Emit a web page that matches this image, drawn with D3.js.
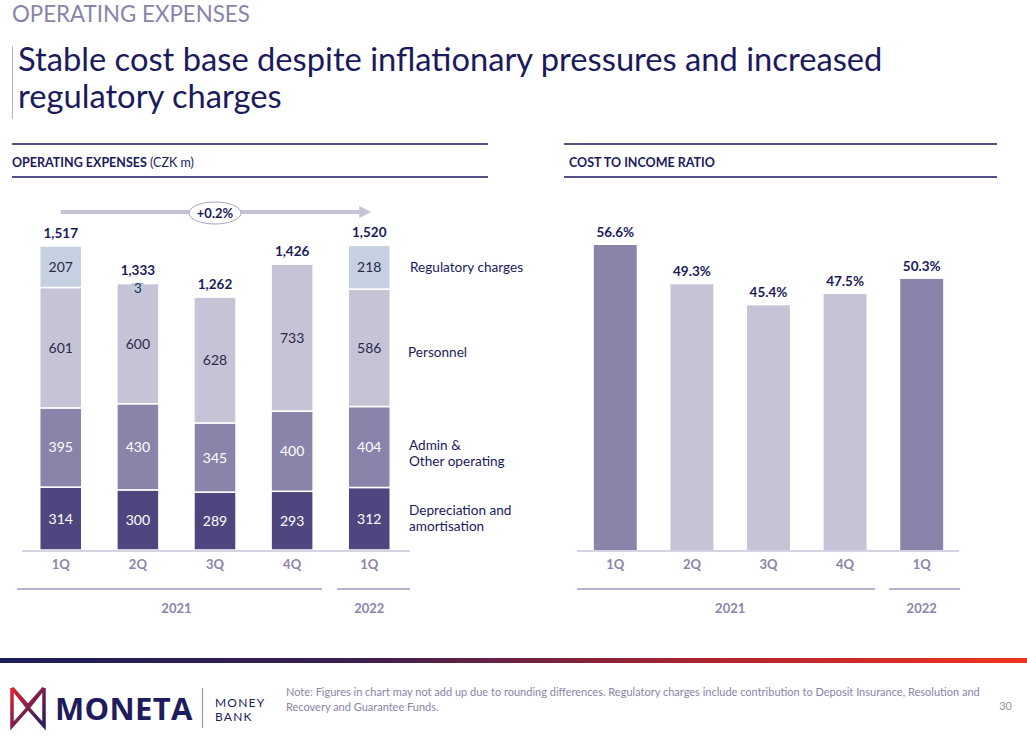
<!DOCTYPE html>
<html><head><meta charset="utf-8">
<script src="https://cdn.jsdelivr.net/npm/d3@7"></script>
<style>
body{margin:0;background:#fff;}
svg{display:block;font-family:Lato, "Open Sans", sans-serif;}
</style></head>
<body><svg id="c" width="1027" height="737"></svg>
<script>
// ---- data ----
const quarters = ["1Q","2Q","3Q","4Q","1Q"];
const years = [{label:"2021", from:0, to:3},{label:"2022", from:4, to:4}];
const depreciation = [314,300,289,293,312];
const admin = [395,430,345,400,404];
const personnel = [601,600,628,733,586];
const regulatory = [207,3,0,0,218];
const totals = [1517,1333,1262,1426,1520];
const seriesNames = ["Depreciation and amortisation","Admin & Other operating","Personnel","Regulatory charges"];
const costIncome = [56.6,49.3,45.4,47.5,50.3];
const ciHighlight = [true,false,false,false,true];
const changeLabel = "+0.2%";

const NAVY="#1b1a5c", C_DEP="#4f4680", C_ADM="#8a83aa", C_PER="#c6c3d7", C_REG="#c5d0e2", GREYTXT="#8a84aa";
const svg = d3.select("#c");

// ---- header ----
svg.append("text").attr("x",12).attr("y",22).attr("fill","#8a84aa").attr("font-size",22.3).text("OPERATING EXPENSES");
svg.append("line").attr("x1",12.5).attr("x2",12.5).attr("y1",46).attr("y2",119).attr("stroke","#b5b5b5").attr("stroke-width",1);
svg.append("text").attr("x",18).attr("y",71).attr("fill",NAVY).attr("font-size",32.7).text("Stable cost base despite inflationary pressures and increased");
svg.append("text").attr("x",18).attr("y",108).attr("fill",NAVY).attr("font-size",32.7).text("regulatory charges");

function sectionHeader(x1,x2,tx,bold,rest){
  [144,177].forEach(y=>svg.append("line").attr("x1",x1).attr("x2",x2).attr("y1",y).attr("y2",y).attr("stroke",NAVY).attr("stroke-width",1.3));
  const t=svg.append("text").attr("x",tx).attr("y",167).attr("font-size",12.5).attr("fill",NAVY);
  t.append("tspan").attr("font-weight","bold").text(bold);
  if(rest) t.append("tspan").text(rest);
}
sectionHeader(12,488,12,"OPERATING EXPENSES"," (CZK m)");
sectionHeader(564,997,569,"COST TO INCOME RATIO","");

// ---- left chart: stacked bars ----
const baseY=550;
const xL = d3.scaleBand().domain(d3.range(5)).range([22,408]).paddingInner(0.455).paddingOuter(0.23);
const yL = d3.scaleLinear().domain([0,1517]).range([baseY, 246]);
const rows = quarters.map((q,i)=>({i,vals:[depreciation[i],admin[i],personnel[i],regulatory[i]]}));
const stack = d3.stack().keys([0,1,2,3]).value((d,k)=>d.vals[k]);
const layers = stack(rows);
const colors=[C_DEP,C_ADM,C_PER,C_REG];
const gL = svg.append("g");
layers.forEach((layer,k)=>{
  gL.selectAll(null).data(layer).enter().append("rect")
    .attr("x",d=>xL(d.data.i)).attr("width",xL.bandwidth())
    .attr("y",d=>yL(d[1])).attr("height",d=>Math.max(0,yL(d[0])-yL(d[1])))
    .attr("fill",colors[k]).attr("stroke","#fff").attr("stroke-width",d=>d[1]-d[0]>0?1.5:0);
  gL.selectAll(null).data(layer.filter(d=>d[1]-d[0]>20)).enter().append("text")
    .attr("x",d=>xL(d.data.i)+xL.bandwidth()/2).attr("y",d=>(yL(d[0])+yL(d[1]))/2+5)
    .attr("text-anchor","middle").attr("font-size",14)
    .attr("fill",k<2?"#fff":"#2a2a4a").text(d=>d[1]-d[0]);
});
// tiny regulatory value label
layers[3].filter(d=>d[1]-d[0]>0 && d[1]-d[0]<=20).forEach(d=>{
  const cx=xL(d.data.i)+xL.bandwidth()/2, y=yL(d[1]);
  gL.append("rect").attr("x",cx-6).attr("y",y).attr("width",12).attr("height",11).attr("fill","#bccadf");
  gL.append("text").attr("x",cx).attr("y",y+10).attr("text-anchor","middle").attr("font-size",13.5).attr("fill","#2a2a4a").text(d[1]-d[0]);
});
// totals
gL.selectAll(null).data(totals).enter().append("text")
  .attr("x",(d,i)=>xL(i)+xL.bandwidth()/2).attr("y",(d,i)=>yL(d)-8)
  .attr("text-anchor","middle").attr("font-size",13.5).attr("font-weight","bold").attr("fill",NAVY)
  .text(d=>d3.format(",")(d));
// legend labels
const legend=[{y:272,lines:["Regulatory charges"],x:410},{y:357,lines:["Personnel"],x:408},{y:450,lines:["Admin &","Other operating"],x:409},{y:515,lines:["Depreciation and","amortisation"],x:409}];
legend.forEach(l=>{
  const t=svg.append("text").attr("x",l.x).attr("y",l.y).attr("font-size",13.6).attr("fill",NAVY);
  l.lines.forEach((s,j)=>t.append("tspan").attr("x",l.x).attr("dy",j?16:0).text(s));
});
// change arrow
const ax1=xL(0)+xL.bandwidth()/2, ax2=xL(4)+xL.bandwidth()/2, ay=212;
svg.append("line").attr("x1",ax1).attr("x2",ax2-8).attr("y1",ay).attr("y2",ay).attr("stroke",C_PER).attr("stroke-width",4);
svg.append("path").attr("d",`M${ax2-10},${ay-6}L${ax2+2},${ay}L${ax2-10},${ay+6}Z`).attr("fill",C_PER);
const mx=(ax1+ax2)/2;
svg.append("ellipse").attr("cx",mx).attr("cy",ay+1).attr("rx",26).attr("ry",11).attr("fill","#fff").attr("stroke","#a9a5c4").attr("stroke-width",1);
svg.append("text").attr("x",mx).attr("y",ay+6).attr("text-anchor","middle").attr("font-size",13).attr("font-weight","bold").attr("fill",NAVY).text(changeLabel);

function axisBlock(x,x0,x1,groups){
  svg.append("line").attr("x1",x0).attr("x2",x1).attr("y1",baseY+1).attr("y2",baseY+1).attr("stroke","#d6d4e3").attr("stroke-width",2);
  svg.selectAll(null).data(quarters).enter().append("text")
    .attr("x",(d,i)=>x(i)+x.bandwidth()/2).attr("y",569).attr("text-anchor","middle")
    .attr("font-size",13).attr("font-weight","bold").attr("fill",GREYTXT).text(d=>d);
  groups.forEach(g=>{
    svg.append("line").attr("x1",g.a).attr("x2",g.b).attr("y1",589).attr("y2",589).attr("stroke","#b4b1cb").attr("stroke-width",2);
    svg.append("text").attr("x",g.c).attr("y",613).attr("text-anchor","middle").attr("font-size",13).attr("font-weight","bold").attr("fill",GREYTXT).text(g.label);
  });
}
axisBlock(xL,22,410,[
  {label:years[0].label,a:17,b:322,c:(xL(years[0].from)+xL(years[0].to)+xL.bandwidth())/2},
  {label:years[1].label,a:337,b:410,c:xL(years[1].from)+xL.bandwidth()/2}]);

// ---- right chart ----
const xR = d3.scaleBand().domain(d3.range(5)).range([577,960]).paddingInner(0.44).paddingOuter(0.22);
const yR = d3.scaleLinear().domain([0,56.6]).range([baseY,245]);
svg.selectAll(null).data(costIncome).enter().append("rect")
  .attr("x",(d,i)=>xR(i)).attr("width",xR.bandwidth()).attr("y",d=>yR(d)).attr("height",d=>baseY-yR(d))
  .attr("fill",(d,i)=>ciHighlight[i]?C_ADM:C_PER);
svg.selectAll(null).data(costIncome).enter().append("text")
  .attr("x",(d,i)=>xR(i)+xR.bandwidth()/2).attr("y",d=>yR(d)-8).attr("text-anchor","middle")
  .attr("font-size",13.5).attr("font-weight","bold").attr("fill",NAVY).text(d=>d.toFixed(1)+"%");
axisBlock(xR,577,959,[
  {label:years[0].label,a:577,b:875,c:(xR(years[0].from)+xR(years[0].to)+xR.bandwidth())/2},
  {label:years[1].label,a:889,b:960,c:xR(years[1].from)+xR.bandwidth()/2}]);

// ---- footer ----
const defs=svg.append("defs");
const gr=defs.append("linearGradient").attr("id","bar").attr("x1","0").attr("x2","1");
gr.append("stop").attr("offset","0").attr("stop-color","#1c1d58");
gr.append("stop").attr("offset","0.35").attr("stop-color","#3b1f4e");
gr.append("stop").attr("offset","0.7").attr("stop-color","#b0242e");
gr.append("stop").attr("offset","1").attr("stop-color","#f2331f");
svg.append("rect").attr("x",0).attr("y",658).attr("width",1027).attr("height",5).attr("fill","url(#bar)");
const lg=defs.append("linearGradient").attr("id","logo").attr("x1","0").attr("y1","0").attr("x2","1").attr("y2","1");
lg.append("stop").attr("offset","0").attr("stop-color","#e0252b");
lg.append("stop").attr("offset","0.6").attr("stop-color","#6a1e50");
lg.append("stop").attr("offset","1").attr("stop-color","#221c5e");
svg.append("path").attr("d","M12,688 L12,726 L28,708 L16,693 M12,688 L28,706 L44,688 M44,688 L44,726 L28,708 L40,693")
  .attr("fill","none").attr("stroke","url(#logo)").attr("stroke-width",3.5).attr("stroke-linejoin","miter");
svg.append("text").attr("x",55).attr("y",720).attr("font-size",31).attr("font-weight","bold").attr("fill","#201b5c").attr("font-family","'Open Sans', Lato, sans-serif").attr("letter-spacing",0.3).text("MONETA");
svg.append("line").attr("x1",202.5).attr("x2",202.5).attr("y1",688).attr("y2",728).attr("stroke","#999").attr("stroke-width",1.2);
svg.append("text").attr("x",215).attr("y",707).attr("font-size",12).attr("fill","#201b5c").attr("letter-spacing",1.2).text("MONEY");
svg.append("text").attr("x",215).attr("y",721).attr("font-size",12).attr("fill","#201b5c").attr("letter-spacing",1.2).text("BANK");
svg.append("text").attr("x",286).attr("y",696).attr("font-size",11).attr("fill",GREYTXT).text("Note: Figures in chart may not add up due to rounding differences. Regulatory charges include contribution to Deposit Insurance, Resolution and");
svg.append("text").attr("x",286).attr("y",711).attr("font-size",11).attr("fill",GREYTXT).text("Recovery and Guarantee Funds.");
svg.append("text").attr("x",1012).attr("y",710).attr("text-anchor","end").attr("font-size",11).attr("fill","#999").text("30");
</script></body></html>
